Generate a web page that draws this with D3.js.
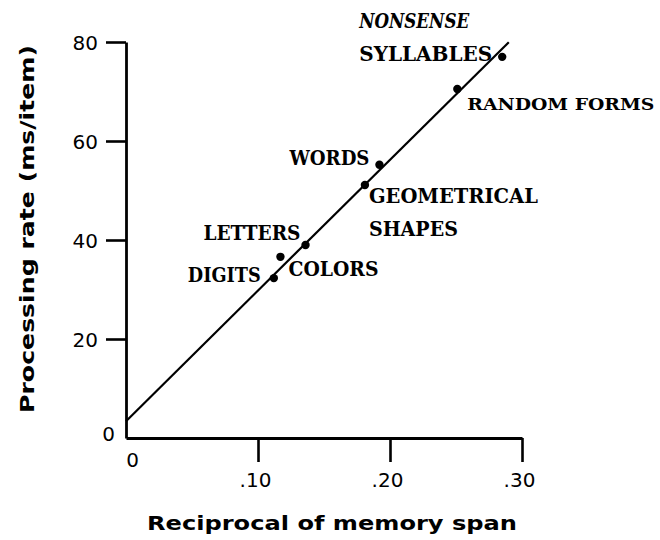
<!DOCTYPE html>
<html>
<head>
<meta charset="utf-8">
<script src="https://cdn.jsdelivr.net/npm/d3@7/dist/d3.min.js"></script>
<style>
  html, body { margin: 0; padding: 0; background: #fff; }
  svg { display: block; }
  .lab { font-family: "DejaVu Serif", serif; font-weight: bold; font-size: 20px; fill: #000; }
  .tick text { font-family: "DejaVu Sans", sans-serif; font-size: 20px; fill: #000; }
  .title { font-family: "DejaVu Sans", sans-serif; font-weight: bold; font-size: 20px; fill: #000; }
</style>
</head>
<body>
<svg id="chart" width="660" height="540"></svg>
<script>
// Materials: reciprocal of memory span vs processing rate
const categories = ["DIGITS", "LETTERS", "COLORS", "GEOMETRICAL SHAPES", "WORDS", "RANDOM FORMS", "NONSENSE SYLLABLES"];
const spanReciprocal = [0.112, 0.117, 0.136, 0.181, 0.192, 0.251, 0.285];
const rateMs = [32.3, 36.6, 39.0, 51.1, 55.2, 70.5, 77.0];
// Fitted line: intercept and slope
const fitIntercept = 3.4;
const fitSlope = 264;
const fitRange = [0, 0.29];
const xTicks = [0, 0.10, 0.20, 0.30];
const xTickLabels = ["0", ".10", ".20", ".30"];
const yTicks = [0, 20, 40, 60, 80];

const svg = d3.select("#chart");
const x = d3.scaleLinear().domain([0, 0.30]).range([126, 522]);
const y = d3.scaleLinear().domain([0, 80]).range([438, 42]);

// x axis
const gx = svg.append("g").attr("transform", `translate(0,${y(0)})`)
  .call(d3.axisBottom(x).tickValues(xTicks).tickSize(24).tickSizeOuter(0)
    .tickFormat((d, i) => xTickLabels[i]));
gx.select(".domain").attr("stroke", "#000").attr("stroke-width", 2.8);
gx.selectAll(".tick line").attr("stroke-width", 2.6)
  .attr("y2", (d, i) => i === 0 ? 0 : 24);
gx.selectAll(".tick text")
  .attr("y", (d, i) => i === 0 ? 15 : 35)
  .attr("dx", (d, i) => i === 0 ? 6 : -3)
  .attr("dy", "0.71em");

// y axis
const gy = svg.append("g").attr("transform", `translate(${x(0)},0)`)
  .call(d3.axisLeft(y).tickValues(yTicks).tickSize(20).tickSizeOuter(0));
gy.select(".domain").attr("stroke", "#000").attr("stroke-width", 2.8);
gy.selectAll(".tick line").attr("stroke-width", 2.6)
  .attr("x2", d => d === 0 ? 0 : -20);
gy.selectAll(".tick text")
  .attr("x", d => d === 0 ? -11 : -28)
  .attr("dy", d => d === 0 ? "0.1em" : "0.35em");

// axis titles
svg.append("text").attr("class", "title")
  .attr("x", 332).attr("y", 530).attr("text-anchor", "middle")
  .attr("textLength", 370).attr("lengthAdjust", "spacingAndGlyphs")
  .text("Reciprocal of memory span");
svg.append("text").attr("class", "title")
  .attr("transform", `translate(34,229) rotate(-90)`)
  .attr("text-anchor", "middle")
  .attr("textLength", 368).attr("lengthAdjust", "spacingAndGlyphs")
  .text("Processing rate (ms/item)");

// regression line
svg.append("line")
  .attr("x1", x(fitRange[0])).attr("y1", y(fitIntercept + fitSlope * fitRange[0]))
  .attr("x2", x(fitRange[1])).attr("y2", y(fitIntercept + fitSlope * fitRange[1]))
  .attr("stroke", "#000").attr("stroke-width", 2.2);

// points
svg.selectAll("circle.pt").data(categories).enter().append("circle")
  .attr("class", "pt")
  .attr("cx", (d, i) => x(spanReciprocal[i]))
  .attr("cy", (d, i) => y(rateMs[i]))
  .attr("r", 4.2).attr("fill", "#000");

// point labels (lines stacked where a name wraps)
const labelPlace = {
  "DIGITS": { dx: -86, dy: 4, w: [73] },
  "LETTERS": { dx: -77, dy: -17, w: [97] },
  "COLORS": { dx: -17, dy: 31, w: [90] },
  "GEOMETRICAL SHAPES": { dx: 4, dy: 18, w: [169, 89], lines: ["GEOMETRICAL", "SHAPES"] },
  "WORDS": { dx: -90, dy: 0, w: [80] },
  "RANDOM FORMS": { dx: 10, dy: 21, w: [187], size: 17 },
  "NONSENSE SYLLABLES": { dx: -143, dy: -29, w: [110, 133], lines: ["NONSENSE", "SYLLABLES"] }
};
categories.forEach((c, i) => {
  const p = labelPlace[c];
  const lines = p.lines || [c];
  lines.forEach((ln, k) => {
    const t = svg.append("text").attr("class", "lab")
      .attr("x", x(spanReciprocal[i]) + p.dx)
      .attr("y", y(rateMs[i]) + p.dy + k * 33)
      .attr("textLength", p.w[k]).attr("lengthAdjust", "spacingAndGlyphs")
      .text(ln);
    if (p.size) t.style("font-size", p.size + "px");
    if (c === "NONSENSE SYLLABLES" && k === 0) t.attr("font-style", "italic");
  });
});
</script>
</body>
</html>
